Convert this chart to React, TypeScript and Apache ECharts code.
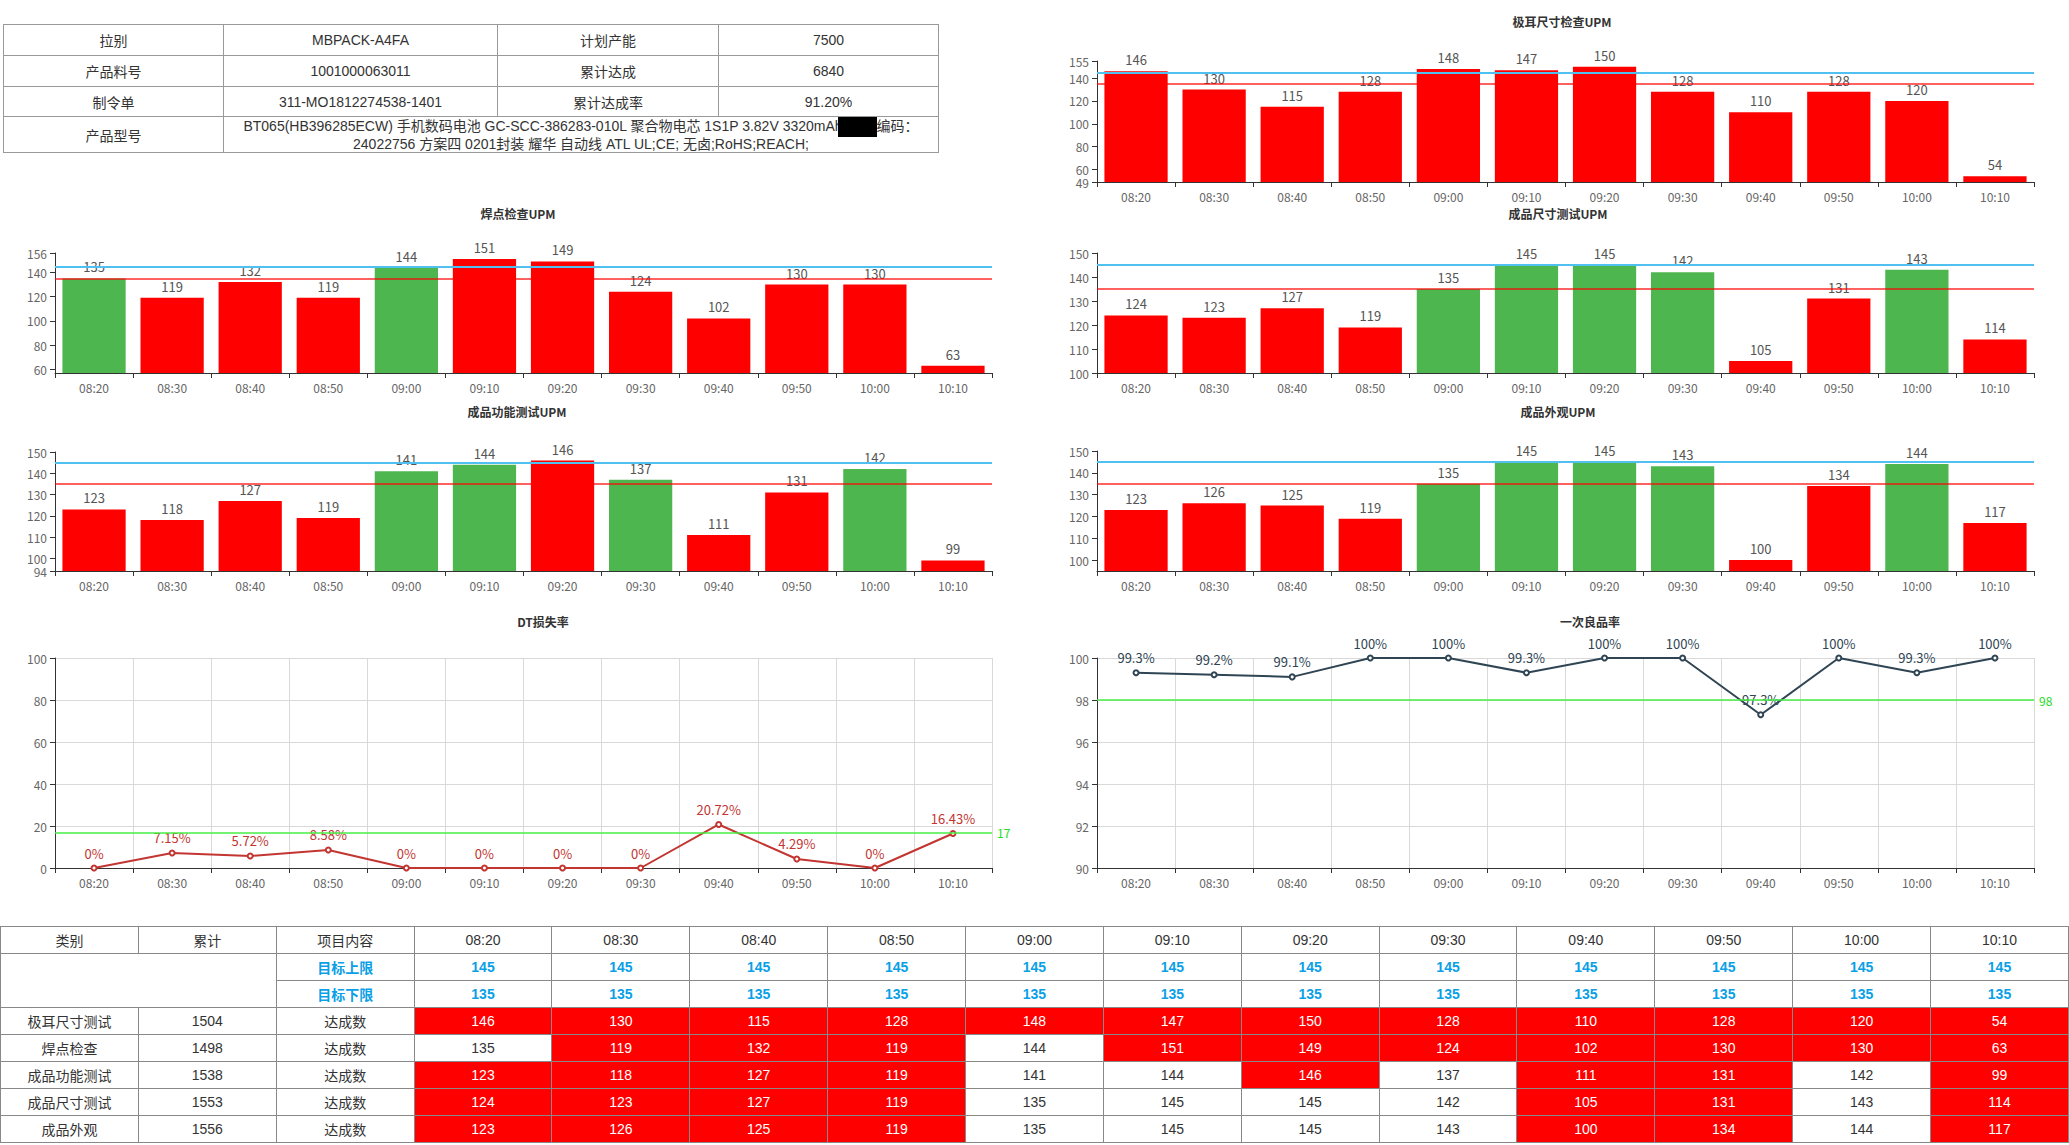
import React, { useEffect, useRef } from 'react';
import * as echarts from 'echarts';

// ---------- data ----------
const times = ['08:20', '08:30', '08:40', '08:50', '09:00', '09:10', '09:20', '09:30', '09:40', '09:50', '10:00', '10:10'];
const upperLimit = 145;
const lowerLimit = 135;

const tabSizeUPM = [146, 130, 115, 128, 148, 147, 150, 128, 110, 128, 120, 54];
const weldUPM = [135, 119, 132, 119, 144, 151, 149, 124, 102, 130, 130, 63];
const dimensionUPM = [124, 123, 127, 119, 135, 145, 145, 142, 105, 131, 143, 114];
const functionUPM = [123, 118, 127, 119, 141, 144, 146, 137, 111, 131, 142, 99];
const appearanceUPM = [123, 126, 125, 119, 135, 145, 145, 143, 100, 134, 144, 117];

const dtLossRate = [0, 7.15, 5.72, 8.58, 0, 0, 0, 0, 20.72, 4.29, 0, 16.43];
const dtTarget = 17;
const firstPassYield = [99.3, 99.2, 99.1, 100, 100, 99.3, 100, 100, 97.3, 100, 99.3, 100];
const fpyTarget = 98;

const tabTicks = [49, 60, 80, 100, 120, 140, 155];
const weldTicks = [60, 80, 100, 120, 140, 156];
const dimensionTicks = [100, 110, 120, 130, 140, 150];
const functionTicks = [94, 100, 110, 120, 130, 140, 150];
const appearanceTicks = [100, 110, 120, 130, 140, 150];

const infoRow1 = ['拉别', 'MBPACK-A4FA', '计划产能', '7500'];
const infoRow2 = ['产品料号', '1001000063011', '累计达成', '6840'];
const infoRow3 = ['制令单', '311-MO1812274538-1401', '累计达成率', '91.20%'];
const modelLabel = '产品型号';
const modelLine1a = 'BT065(HB396285ECW) 手机数码电池 GC-SCC-386283-010L 聚合物电芯 1S1P 3.82V 3320mAh';
const modelLine1b = '编码：';
const modelLine2 = '24022756 方案四 0201封装 耀华 自动线 ATL UL;CE; 无卤;RoHS;REACH;';

const tableHeader = ['类别', '累计', '项目内容'];
const upperLabel = '目标上限';
const lowerLabel = '目标下限';
const achievedLabel = '达成数';
const tableRows = [
  { name: '极耳尺寸测试', values: tabSizeUPM },
  { name: '焊点检查', values: weldUPM },
  { name: '成品功能测试', values: functionUPM },
  { name: '成品尺寸测试', values: dimensionUPM },
  { name: '成品外观', values: appearanceUPM },
];

// ---------- styles ----------
const FONT = "'Microsoft YaHei', 'Noto Sans CJK SC', sans-serif";
const TFONT = "Arial, 'Liberation Sans', 'Noto Sans CJK SC', sans-serif";
const RED = '#ff0000';
const GREEN = '#4db64f';
const BLUE_LINE = '#4fc0f0';
const RED_LINE = 'rgba(255,0,0,0.62)';
const TARGET_GREEN = '#44ee44';

const inRange = (v: number) => v >= lowerLimit && v <= upperLimit;

const barCharts = [
  { title: '极耳尺寸检查UPM', data: tabSizeUPM, min: 49, max: 155, ticks: tabTicks, grid: { left: 1097, top: 61, width: 937, height: 121 }, tx: 1562, ty: 23 },
  { title: '焊点检查UPM', data: weldUPM, min: 57, max: 156, ticks: weldTicks, grid: { left: 55, top: 253, width: 937, height: 120 }, tx: 518, ty: 215 },
  { title: '成品尺寸测试UPM', data: dimensionUPM, min: 100, max: 150, ticks: dimensionTicks, grid: { left: 1097, top: 253, width: 937, height: 120 }, tx: 1558, ty: 215 },
  { title: '成品功能测试UPM', data: functionUPM, min: 94, max: 150, ticks: functionTicks, grid: { left: 55, top: 452, width: 937, height: 119 }, tx: 517, ty: 413 },
  { title: '成品外观UPM', data: appearanceUPM, min: 95, max: 150, ticks: appearanceTicks, grid: { left: 1097, top: 451, width: 937, height: 120 }, tx: 1558, ty: 413 },
];

const lineCharts = [
  { title: 'DT损失率', data: dtLossRate, min: 0, max: 100, interval: 20, target: dtTarget, color: '#c23531', grid: { left: 55, top: 658, width: 937, height: 210 }, tx: 543, ty: 623 },
  { title: '一次良品率', data: firstPassYield, min: 90, max: 100, interval: 2, target: fpyTarget, color: '#2f4554', grid: { left: 1097, top: 658, width: 937, height: 210 }, tx: 1590, ty: 623 },
];

function buildOption() {
  const grids: any[] = [];
  const xAxes: any[] = [];
  const yAxes: any[] = [];
  const series: any[] = [];
  const titles: any[] = [];

  const axisLabelBase = { color: '#666', fontSize: 12, fontFamily: FONT };

  barCharts.forEach((c, i) => {
    grids.push({ ...c.grid, containLabel: false });
    titles.push({ text: c.title, left: c.tx, top: c.ty - 8, textAlign: 'center', padding: 0, textStyle: { fontSize: 12, fontWeight: 'bold', color: '#333', fontFamily: FONT } });
    xAxes.push({
      gridIndex: i, type: 'category', data: times,
      axisLine: { lineStyle: { color: '#333' } },
      axisTick: { show: true, lineStyle: { color: '#333' } },
      axisLabel: { ...axisLabelBase },
      splitLine: { show: false },
    });
    yAxes.push({
      gridIndex: i, type: 'value', min: c.min, max: c.max,
      axisLine: { show: true, lineStyle: { color: '#333' } },
      axisTick: { show: true, customValues: c.ticks, lineStyle: { color: '#333' } },
      axisLabel: { ...axisLabelBase, customValues: c.ticks },
      splitLine: { show: false },
    });
    series.push({
      type: 'bar', xAxisIndex: i, yAxisIndex: i,
      barCategoryGap: '19%',
      data: c.data.map((v) => ({ value: v, itemStyle: { color: inRange(v) ? GREEN : RED } })),
      label: { show: true, position: 'top', color: '#555', fontSize: 13, fontFamily: FONT },
      markLine: {
        silent: true, symbol: 'none', label: { show: false }, animation: false,
        data: [
          { yAxis: upperLimit, lineStyle: { color: BLUE_LINE, width: 2, type: 'solid' } },
          { yAxis: lowerLimit, lineStyle: { color: RED_LINE, width: 2, type: 'solid' } },
        ],
      },
    });
  });

  lineCharts.forEach((c, j) => {
    const i = barCharts.length + j;
    grids.push({ ...c.grid, containLabel: false });
    titles.push({ text: c.title, left: c.tx, top: c.ty - 8, textAlign: 'center', padding: 0, textStyle: { fontSize: 12, fontWeight: 'bold', color: '#333', fontFamily: FONT } });
    xAxes.push({
      gridIndex: i, type: 'category', data: times, boundaryGap: true,
      axisLine: { lineStyle: { color: '#333' } },
      axisTick: { show: true, lineStyle: { color: '#333' } },
      axisLabel: { ...axisLabelBase },
      splitLine: { show: true, lineStyle: { color: '#d9d9d9' } },
    });
    yAxes.push({
      gridIndex: i, type: 'value', min: c.min, max: c.max, interval: c.interval,
      axisLine: { show: true, lineStyle: { color: '#333' } },
      axisTick: { show: true, lineStyle: { color: '#333' } },
      axisLabel: { ...axisLabelBase },
      splitLine: { show: true, lineStyle: { color: '#d9d9d9' } },
    });
    series.push({
      type: 'line', xAxisIndex: i, yAxisIndex: i, data: c.data,
      symbol: 'emptyCircle', symbolSize: 5,
      lineStyle: { color: c.color, width: 2 },
      itemStyle: { color: c.color },
      label: { show: true, position: 'top', formatter: '{c}%', color: c.color, fontSize: 13, fontFamily: FONT },
      markLine: {
        silent: true, symbol: 'none', animation: false,
        lineStyle: { color: TARGET_GREEN, width: 1.5, type: 'solid' },
        label: { show: true, position: 'end', formatter: '{c}', color: '#22dd22', fontSize: 12, fontFamily: FONT },
        data: [{ yAxis: c.target }],
      },
    });
  });

  return {
    animation: false,
    backgroundColor: 'transparent',
    textStyle: { fontFamily: FONT },
    title: titles,
    grid: grids,
    xAxis: xAxes,
    yAxis: yAxes,
    series,
  };
}

const cellTop: React.CSSProperties = { border: '1px solid #999', textAlign: 'center', padding: 0 };
const cellB: React.CSSProperties = { border: '1px solid #888', textAlign: 'center', padding: 0 };
const blueTxt: React.CSSProperties = { color: '#0aa0e6', fontWeight: 'bold' };

export default function App() {
  const ref = useRef<HTMLDivElement>(null);
  useEffect(() => {
    document.body.style.margin = '0';
    document.body.style.overflow = 'hidden';
    const chart = echarts.init(ref.current!, undefined, { renderer: 'svg' });
    chart.setOption(buildOption() as any);
    return () => chart.dispose();
  }, []);

  const sum = (a: number[]) => a.reduce((s, v) => s + v, 0);

  return (
    <div style={{ position: 'relative', width: 2069, height: 1145, background: '#fff', overflow: 'hidden' }}>
      <div ref={ref} style={{ position: 'absolute', left: 0, top: 0, width: 2069, height: 1145 }} />

      <table style={{ position: 'absolute', left: 3, top: 24, width: 935, borderCollapse: 'collapse', tableLayout: 'fixed', fontFamily: TFONT, fontSize: 14, color: '#333', zIndex: 2 }}>
        <colgroup>
          <col style={{ width: 220 }} />
          <col style={{ width: 274 }} />
          <col style={{ width: 221 }} />
          <col style={{ width: 220 }} />
        </colgroup>
        <tbody>
          {[infoRow1, infoRow2, infoRow3].map((r, ri) => (
            <tr key={ri} style={{ height: ri === 2 ? 30 : 31 }}>
              {r.map((t, ci) => <td key={ci} style={cellTop}>{t}</td>)}
            </tr>
          ))}
          <tr style={{ height: 35 }}>
            <td style={cellTop}>{modelLabel}</td>
            <td colSpan={3} style={{ ...cellTop, lineHeight: '15px' }}>
              {modelLine1a}
              <span style={{ display: 'inline-block', width: 39, height: 20, background: '#000', verticalAlign: 'middle', marginLeft: -5 }} />
              {modelLine1b}
              <br />
              {modelLine2}
            </td>
          </tr>
        </tbody>
      </table>

      <div style={{ position: 'absolute', left: 0, top: 925, width: 2069, height: 220, overflow: 'hidden', zIndex: 2 }}>
        <table style={{ width: 2069, borderCollapse: 'collapse', tableLayout: 'fixed', fontFamily: TFONT, fontSize: 14, color: '#333', marginTop: 1 }}>
          <tbody>
            <tr style={{ height: 27 }}>
              {tableHeader.map((h, i) => <td key={i} style={cellB}>{h}</td>)}
              {times.map((t) => <td key={t} style={cellB}>{t}</td>)}
            </tr>
            <tr style={{ height: 27 }}>
              <td colSpan={2} rowSpan={2} style={cellB}></td>
              <td style={{ ...cellB, ...blueTxt }}>{upperLabel}</td>
              {times.map((t) => <td key={t} style={{ ...cellB, ...blueTxt }}>{upperLimit}</td>)}
            </tr>
            <tr style={{ height: 27 }}>
              <td style={{ ...cellB, ...blueTxt }}>{lowerLabel}</td>
              {times.map((t) => <td key={t} style={{ ...cellB, ...blueTxt }}>{lowerLimit}</td>)}
            </tr>
            {tableRows.map((r) => (
              <tr key={r.name} style={{ height: 27 }}>
                <td style={cellB}>{r.name}</td>
                <td style={cellB}>{sum(r.values)}</td>
                <td style={cellB}>{achievedLabel}</td>
                {r.values.map((v, k) => (
                  <td key={k} style={inRange(v) ? cellB : { ...cellB, background: RED, color: '#fff' }}>{v}</td>
                ))}
              </tr>
            ))}
          </tbody>
        </table>
      </div>
    </div>
  );
}
